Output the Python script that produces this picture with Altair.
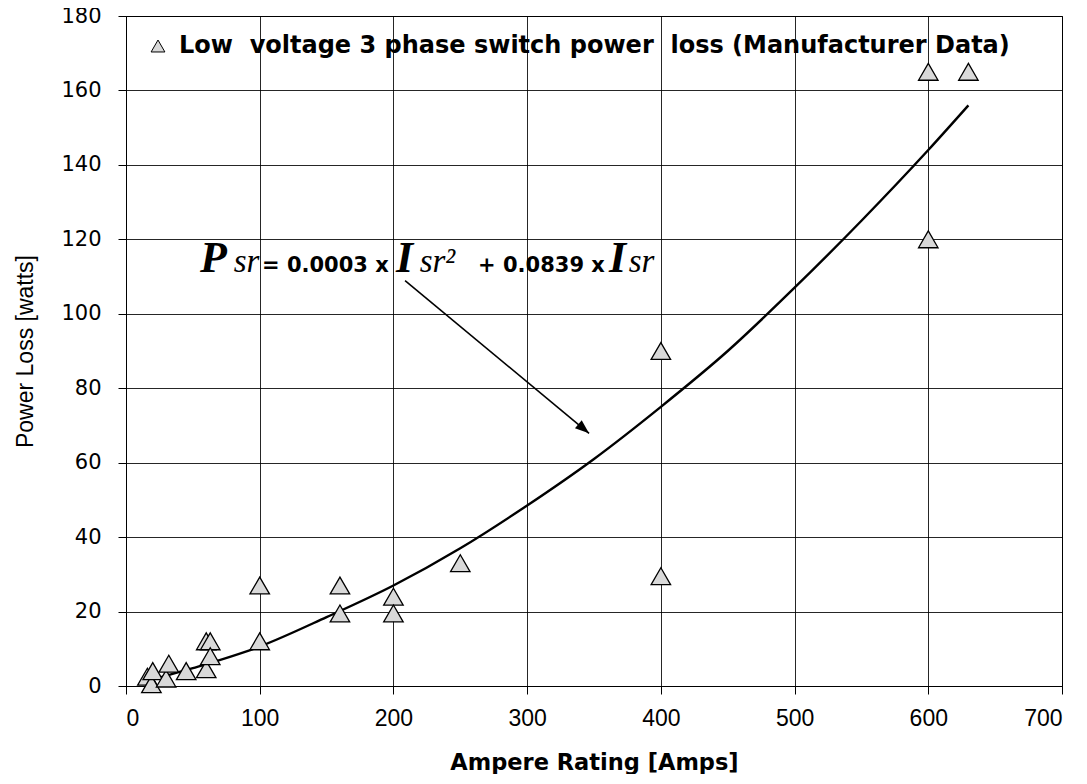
import altair as alt
import pandas as pd

# ---- data ----
amps = [16, 19, 20, 30, 32, 45, 60, 60, 63, 63, 100, 100, 160, 160, 200, 200, 250, 400, 400, 600, 600, 630]
watts = [2.5, 0.5, 4, 2, 6, 4, 4.5, 12, 12, 8, 12, 27, 27, 19.5, 24, 19.5, 33, 90, 29.5, 165, 120, 165]
series_name = "Low \u00a0voltage 3 phase switch power \u00a0loss (Manufacturer Data)"

# fitted trend curve
curve_x = [12, 50, 100, 150, 200, 250, 300, 350, 400, 450, 500, 550, 600, 630]
curve_y = [1.0, 4.8, 10.6, 18.5, 27, 37, 48.5, 61, 75, 90, 107, 125, 144, 156]

# equation annotation (pieces, in data units)
eq_text = ["P", "sr", "= 0.0003 x", "I", "sr\u00b2", "+ 0.0839 x", "I", "sr"]
eq_x = [55.3, 80.5, 101.7, 202, 219.6, 263.3, 361.2, 376]
eq_y = [111.3] * 8
eq_style = ["big", "sub", "num", "big", "sub", "num", "big", "sub"]

# arrow from equation to curve
arrow_x = [208.7, 346.3]
arrow_y = [108.9, 67.9]

x_ticks = [0, 100, 200, 300, 400, 500, 600, 700]
y_ticks = [0, 20, 40, 60, 80, 100, 120, 140, 160, 180]

pts = pd.DataFrame({"amps": amps, "watts": watts, "series": [series_name] * len(amps)})
curve = pd.DataFrame({"amps": curve_x, "watts": curve_y})
eq = pd.DataFrame({"t": eq_text, "amps": eq_x, "watts": eq_y, "style": eq_style})
arrow = pd.DataFrame({"amps": arrow_x, "watts": arrow_y})
tip = arrow.iloc[[1]]

xscale = alt.Scale(domain=[0, 700], nice=False)
yscale = alt.Scale(domain=[0, 180], nice=False)

xaxis = alt.Axis(values=x_ticks, title="Ampere Rating [Amps]", labelFont="Liberation Sans",
                 labelFontSize=23, labelPadding=13, titleFont="DejaVu Sans", titleFontSize=22.5,
                 titleFontWeight="bold", titlePadding=21)
yaxis = alt.Axis(values=y_ticks, title="Power Loss [watts]", labelFont="DejaVu Sans",
                 labelFontSize=21, labelPadding=17, titleFont="Liberation Sans",
                 titleFontSize=23, titleFontWeight="normal", titlePadding=23)

X = alt.X("amps:Q", scale=xscale, axis=xaxis)
Y = alt.Y("watts:Q", scale=yscale, axis=yaxis)

line = alt.Chart(curve).mark_line(color="black", strokeWidth=2.4, interpolate="monotone").encode(x=X, y=Y)

points = alt.Chart(pts).mark_point(shape="triangle-up", filled=True, size=380, opacity=1,
                                   stroke="black", strokeWidth=1.3).encode(
    x="amps:Q", y="watts:Q",
    color=alt.Color("series:N", scale=alt.Scale(range=["#d9d9d9"]),
                    legend=alt.Legend(title=None, orient="none", legendX=20, legendY=18,
                                      symbolType="triangle-up", symbolSize=190,
                                      symbolStrokeColor="black", symbolStrokeWidth=1,
                                      symbolFillColor="#d9d9d9", labelFont="DejaVu Sans",
                                      labelFontSize=24, labelFontWeight="bold", labelColor="black",
                                      labelLimit=0, labelOffset=9, padding=0)),
)

arrow_line = alt.Chart(arrow).mark_line(color="black", strokeWidth=1.6).encode(x="amps:Q", y="watts:Q")
arrow_head = alt.Chart(tip).mark_point(shape="M0,0 L-2,-0.75 L-2,0.75 Z", filled=True, color="black",
                                       opacity=1, size=196, angle=40).encode(x="amps:Q", y="watts:Q")

big = alt.Chart(eq).transform_filter(alt.datum.style == "big").mark_text(
    align="left", baseline="alphabetic", font="Liberation Serif", fontSize=44,
    fontStyle="italic", fontWeight="bold", color="black").encode(x="amps:Q", y="watts:Q", text="t:N")
sub = alt.Chart(eq).transform_filter(alt.datum.style == "sub").mark_text(
    align="left", baseline="alphabetic", font="Liberation Serif", fontSize=33,
    fontStyle="italic", color="black").encode(x="amps:Q", y="watts:Q", text="t:N")
num = alt.Chart(eq).transform_filter(alt.datum.style == "num").mark_text(
    align="left", baseline="alphabetic", font="DejaVu Sans", fontSize=21,
    fontWeight="bold", color="black").encode(x="amps:Q", y="watts:Q", text="t:N")

chart = alt.layer(line, points, arrow_line, arrow_head, big, sub, num).properties(
    width=936, height=670,
    autosize=alt.AutoSizeParams(type="none"),
    padding={"left": 118, "top": 8, "right": 9, "bottom": 88},
    background="white",
).configure_view(stroke="black", strokeWidth=1).configure_axis(
    grid=True, gridColor="black", gridWidth=1, gridOpacity=0.85,
    domainColor="black", domainWidth=1, tickColor="black", tickSize=8, tickWidth=1,
    labelColor="black", titleColor="black",
)

chart.save("out.html", embed_options={"renderer": "svg", "actions": False})
